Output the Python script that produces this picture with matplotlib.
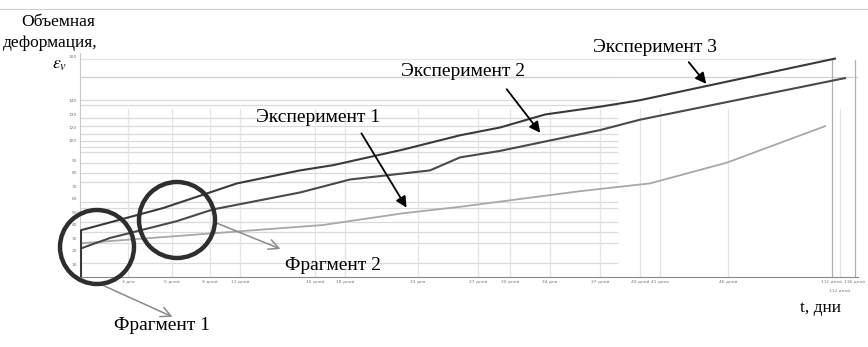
import matplotlib
matplotlib.use("Agg")
import matplotlib.pyplot as plt
from matplotlib.patches import Ellipse, FancyArrowPatch
from matplotlib.transforms import ScaledTranslation
import numpy as np

plt.rcParams['font.family'] = ['Liberation Serif', 'DejaVu Serif']
plt.rcParams['mathtext.fontset'] = 'stix'

W, H = 868, 347

# chart units: x is position along the time axis, y is the deformation scale
exp1_x = [2, 243, 323, 380, 500, 570, 647, 745]
exp1_y = [26, 40, 49, 54, 66, 72, 88, 116]

exp2_x = [1, 30, 97, 133, 220, 270, 350, 380, 420, 520, 560, 765]
exp2_y = [22, 30, 43, 52, 65, 75, 82, 92, 97, 113, 121, 153]

exp3_x = [1, 1, 83, 157, 220, 253, 323, 380, 420, 465, 520, 560, 755]
exp3_y = [0, 36, 53, 72, 82, 86, 98, 109, 115, 125, 131, 136, 168]

day_ticks = [48, 92, 130, 160, 235, 265, 338, 398, 430, 470, 520, 560, 580,
             648, 752, 760, 775]
day_labels = ["3 дня", "5 дней", "9 дней", "11 дней", "16 дней", "18 дней",
              "23 дня", "27 дней", "30 дней", "34 дня", "37 дней", "40 дней",
              "41 день", "46 дней", "111 дней", "112 дней", "116 дней"]

eps_ticks = [10, 20, 30, 40, 50, 60, 70, 80, 90, 105, 115, 125, 136, 170]
eps_labels = ["10", "20", "30", "40", "50", "60", "70", "80", "90", "100",
              "120", "130", "140", "200"]
grid_levels = [11, 26, 35, 42, 53, 58, 73, 80, 88, 96, 100, 105, 110, 116,
               122, 132, 136, 154]


def fp(x, y):
    # pixel position -> figure fraction
    return (x / W, 1 - y / H)


fig = plt.figure(figsize=(W / 100, H / 100), dpi=100)
ax = fig.add_axes([80 / W, 1 - 277 / H, 778 / W, (277 - 53.4) / H])
ax.set_xlim(0, 778)
ax.set_ylim(0, 172)

for g in grid_levels:
    ax.axhline(g, xmin=0, xmax=0.69, color='#dadada', lw=0.9, zorder=0)
ax.axhline(154, color='#d2d2d2', lw=0.9, zorder=0)
ax.axhline(168, xmax=0.97, color='#e4e4e4', lw=0.9, zorder=0)
for t in day_ticks:
    tall = t in (752, 775)
    ax.axvline(t, ymax=0.97 if tall else 0.75,
               color='#b0b0b0' if tall else '#e4e4e4', lw=0.9, zorder=0)

ax.plot(exp1_x, exp1_y, color='#a8a8a8', lw=1.3, zorder=3)
ax.plot(exp2_x, exp2_y, color='#4a4a4a', lw=1.5, zorder=3)
ax.plot(exp3_x, exp3_y, color='#3a3a3a', lw=1.5, zorder=3)

ax.set_xticks(day_ticks)
ax.set_xticklabels(day_labels, fontsize=3.2, color='#777777',
                   family='DejaVu Sans')
ax.set_yticks(eps_ticks)
ax.set_yticklabels(eps_labels, fontsize=3.2, color='#777777',
                   family='DejaVu Sans')
ax.tick_params(length=0, pad=2)
# the 112-day label sits a row lower so it does not collide with its neighbours
lab = ax.get_xticklabels()[15]
lab.set_transform(lab.get_transform() +
                  ScaledTranslation(0, -6 / 72, fig.dpi_scale_trans))
for s in ['top', 'right']:
    ax.spines[s].set_visible(False)
ax.spines['bottom'].set_color('#8a8a8a')
ax.spines['left'].set_color('#c8c8c8')

# thin rule along the top of the page
fig.add_artist(plt.Line2D([0, 1], [1 - 9 / H] * 2, color='#d0d0d0', lw=0.8))

# axis captions
fig.text(*fp(58, 22), "Объемная", ha='center', va='center', fontsize=12.5)
fig.text(*fp(50, 43), "деформация,", ha='center', va='center', fontsize=12.5)
fig.text(*fp(60, 64), r"$\varepsilon_v$", ha='center', va='center',
         fontsize=13)
fig.text(*fp(820, 308), "t, дни", ha='center', va='center', fontsize=12.5)

# experiment labels with pointers
arrow_k = dict(arrowstyle='-|>', color='black', lw=1.3, mutation_scale=16)
for label, tx, ty, ax0, ay0, ax1, ay1 in [
        ("Эксперимент 3", 655, 47, 687, 60, 708, 86),
        ("Эксперимент 2", 463, 72, 505, 87, 542, 135),
        ("Эксперимент 1", 318, 118, 360, 131, 408, 210)]:
    fig.text(*fp(tx, ty), label, ha='center', va='center', fontsize=14)
    fig.add_artist(FancyArrowPatch(fp(ax0, ay0), fp(ax1, ay1),
                                   transform=fig.transFigure, **arrow_k))

# fragment circles
for cx, cy, r in [(97, 247, 37), (177, 220, 38)]:
    fig.add_artist(Ellipse(fp(cx, cy), 2 * r / W, 2 * r / H,
                           transform=fig.transFigure, fill=False,
                           ec='#2e2e2e', lw=3.2, zorder=5))

arrow_g = dict(arrowstyle='->', color='#8a8a8a', lw=1.1, mutation_scale=18)
fig.add_artist(FancyArrowPatch(fp(214, 222), fp(283, 250),
                               transform=fig.transFigure, **arrow_g))
fig.add_artist(FancyArrowPatch(fp(100, 284), fp(175, 318),
                               transform=fig.transFigure, **arrow_g))
fig.text(*fp(333, 265), "Фрагмент 2", ha='center', va='center', fontsize=14)
fig.text(*fp(162, 326), "Фрагмент 1", ha='center', va='center', fontsize=14)

fig.savefig("out.png", dpi=100)
